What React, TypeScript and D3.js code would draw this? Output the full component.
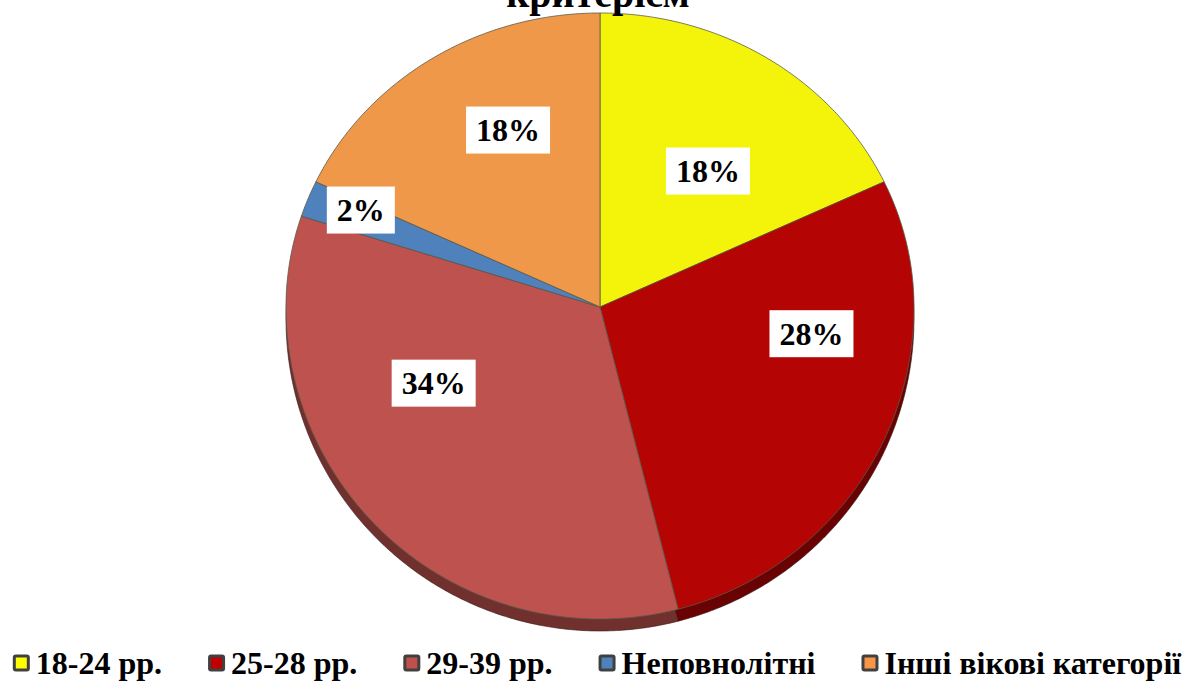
import React, {useEffect, useRef} from 'react';
import * as d3 from 'd3';

const WIDTH = 1186;
const HEIGHT = 681;

const categories = ['18-24 рр.', '25-28 рр.', '29-39 рр.', 'Неповнолітні', 'Інші вікові категорії'];
const shares = [18, 28, 34, 2, 18];
const sliceColors = ['#F4F40B', '#B40404', '#BD524F', '#4F81BD', '#F0984A'];
const legendColors = ['#FFFF00', '#C00000', '#C0504D', '#4F81BD', '#F79646'];
const titleText = 'критерієм';

// label boxes were dragged around in the original, so nudge them from the ray point
const labelNudge: [number, number][] = [[7, 13], [41, -53], [-29, -52], [-64, -32], [9, -28]];

const FONT = '"Liberation Serif", "Times New Roman", serif';

export default function App() {
    const svgRef = useRef<SVGSVGElement>(null);

    useEffect(() => {
        const svg = d3.select(svgRef.current);
        svg.selectAll('*').remove();

        const cx = 600;
        const cy = 307;
        const rx = 314;
        const ryTop = 294;
        const ryBottom = 312;
        const depth = 12;

        const pt = (t: number, k = 1, dy = 0): [number, number] => [
            cx + rx * k * Math.sin(t),
            cy + dy - (Math.cos(t) >= 0 ? ryTop : ryBottom) * k * Math.cos(t),
        ];

        const arcs = d3.pie<number>().sort(null).startAngle(0).endAngle(2 * Math.PI)(shares);

        const slicePoints = (a0: number, a1: number, dy = 0) => {
            const n = Math.max(2, Math.ceil((a1 - a0) / 0.01));
            const pts: [number, number][] = [[cx, cy + dy]];
            d3.range(n + 1).forEach(i => pts.push(pt(a0 + (a1 - a0) * i / n, 1, dy)));
            pts.push([cx, cy + dy]);
            return pts;
        };
        const line = d3.line();

        // side (extruded part), drawn as darker copy shifted down
        const side = svg.append('g');
        arcs.forEach((a, i) => {
            side.append('path')
                .attr('d', line(slicePoints(a.startAngle, a.endAngle, depth)))
                .attr('fill', d3.color(sliceColors[i])!.darker(1.5).toString())
                .attr('stroke', '#3a1515')
                .attr('stroke-width', 0.6);
        });

        const top = svg.append('g');
        arcs.forEach((a, i) => {
            top.append('path')
                .attr('d', line(slicePoints(a.startAngle, a.endAngle)))
                .attr('fill', sliceColors[i])
                .attr('stroke', '#5a5a4a')
                .attr('stroke-width', 0.8)
                .attr('stroke-linejoin', 'round');
        });

        // data labels
        const labels = svg.append('g');
        arcs.forEach((a, i) => {
            const mid = (a.startAngle + a.endAngle) / 2;
            const [bx, by] = pt(mid, 0.6);
            const x = bx + labelNudge[i][0];
            const y = by + labelNudge[i][1];
            const g = labels.append('g');
            const rect = g.append('rect').attr('fill', '#fff');
            const txt = g.append('text')
                .attr('x', x)
                .attr('y', y + 11)
                .attr('text-anchor', 'middle')
                .style('font-family', FONT)
                .style('font-weight', 'bold')
                .style('font-size', '32px')
                .text(`${shares[i]}%`);
            const w = (txt.node() as SVGTextElement).getComputedTextLength() + 20;
            rect.attr('x', x - w / 2).attr('y', y - 23.5).attr('width', w).attr('height', 47);
        });

        // title, cut at the top of the picture as in the original
        svg.append('text')
            .attr('x', 598)
            .attr('y', 7)
            .attr('text-anchor', 'middle')
            .style('font-family', FONT)
            .style('font-weight', 'bold')
            .style('font-size', '40px')
            .text(titleText);

        // legend
        const legend = svg.append('g');
        const gap = 46;
        const items = categories.map((c, i) => {
            const g = legend.append('g');
            g.append('rect')
                .attr('x', 0).attr('y', -8.5).attr('width', 17).attr('height', 17)
                .attr('rx', 3)
                .attr('fill', '#404040');
            g.append('rect')
                .attr('x', 3).attr('y', -5.5).attr('width', 11).attr('height', 11)
                .attr('fill', legendColors[i]);
            const t = g.append('text')
                .attr('x', 23)
                .attr('y', 11)
                .style('font-family', FONT)
                .style('font-weight', 'bold')
                .style('font-size', '32px')
                .text(c);
            const w = 23 + (t.node() as SVGTextElement).getComputedTextLength();
            return {g, w};
        });
        const total = d3.sum(items, d => d.w) + gap * (items.length - 1);
        let lx = 597 - total / 2;
        items.forEach(({g, w}) => {
            g.attr('transform', `translate(${lx},663)`);
            lx += w + gap;
        });
    }, []);

    return (
        <svg ref={svgRef} width={WIDTH} height={HEIGHT}
             style={{position: 'absolute', left: 0, top: 0, background: '#fff'}}/>
    );
}
